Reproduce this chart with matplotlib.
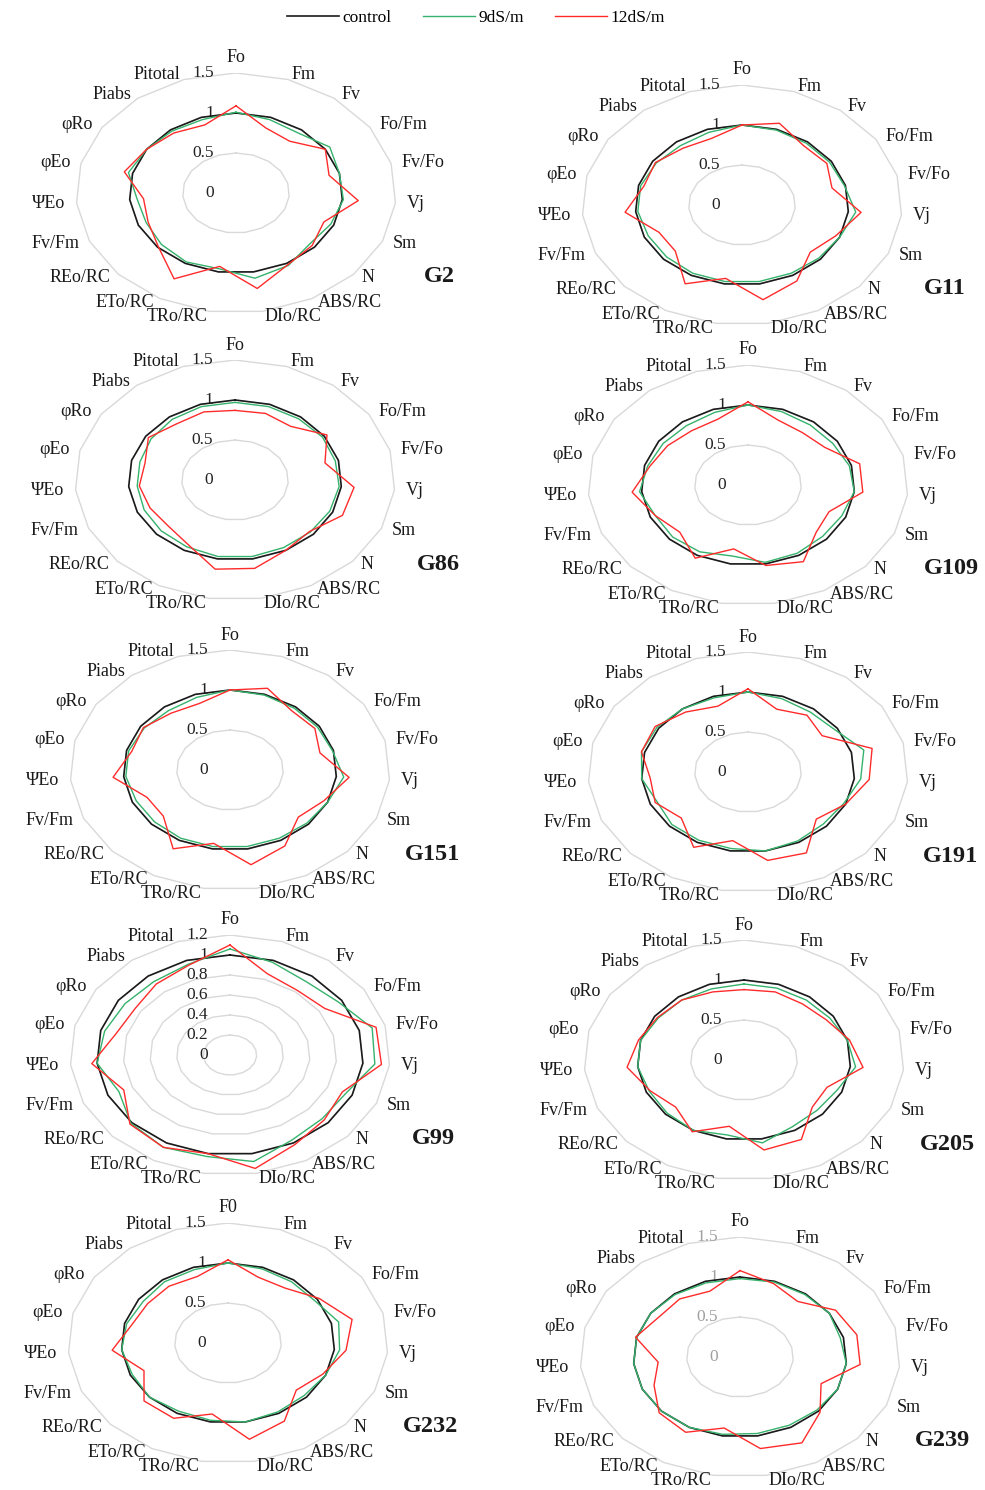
import matplotlib.pyplot as plt
import numpy as np
from matplotlib.lines import Line2D

plt.rcParams['font.family'] = ['Liberation Serif', 'DejaVu Serif']

params = ['Fo', 'Fm', 'Fv', 'Fo/Fm', 'Fv/Fo', 'Vj', 'Sm', 'N', 'ABS/RC', 'DIo/RC',
          'TRo/RC', 'ETo/RC', 'REo/RC', 'Fv/Fm', 'ΨEo', 'φEo', 'φRo', 'Piabs', 'Pitotal']

genotypes = ['G2', 'G11', 'G86', 'G109', 'G151', 'G191', 'G99', 'G205', 'G232', 'G239']

control = [1, 1, 1, 1, 1, 1, 1, 1, 1, 1, 1, 1, 1, 1, 1, 1, 1, 1, 1]

# 9 dS/m
g2_9 = [1.01, 0.97, 0.95, 1.05, 1.0, 1.01, 0.97, 0.94, 1.03, 1.08, 0.96, 0.98, 0.95, 0.92, 0.93, 1.04, 1.0, 0.98, 0.97]
g11_9 = [1.0, 0.99, 0.98, 0.98, 0.99, 1.07, 1.0, 0.98, 0.97, 0.97, 0.97, 0.97, 0.96, 0.96, 0.98, 0.98, 0.96, 0.94, 0.96]
g86_9 = [0.97, 0.97, 0.97, 0.98, 0.97, 0.98, 0.97, 0.96, 0.96, 0.97, 0.97, 0.95, 0.94, 0.93, 0.92, 0.92, 0.94, 0.96, 0.97]
g109_9 = [1.0, 0.97, 0.95, 0.95, 0.98, 1.0, 0.96, 0.95, 0.97, 0.98, 0.9, 0.95, 0.96, 0.95, 1.02, 0.97, 0.95, 0.94, 0.96]
g151_9 = [1.0, 0.99, 0.98, 0.98, 0.99, 1.07, 1.0, 0.98, 0.97, 0.97, 0.97, 0.97, 0.96, 0.96, 0.98, 0.98, 0.96, 0.94, 0.96]
g191_9 = [1.0, 0.97, 0.95, 0.97, 1.12, 1.06, 0.98, 0.96, 0.98, 1.0, 0.97, 0.97, 0.97, 0.93, 1.0, 1.03, 1.02, 1.0, 0.98]
g99_9 = [1.06, 0.98, 0.93, 0.97, 1.1, 1.09, 0.95, 0.94, 0.97, 1.08, 1.03, 1.05, 1.01, 0.91, 1.0, 0.97, 0.94, 0.93, 0.96]
g205_9 = [0.95, 0.95, 0.95, 0.96, 1.0, 1.05, 0.95, 0.93, 0.95, 1.05, 0.95, 1.0, 0.98, 0.97, 1.0, 1.0, 0.96, 0.95, 0.94]
g232_9 = [1.0, 0.98, 0.97, 0.97, 1.07, 1.05, 1.0, 0.97, 0.98, 1.0, 0.98, 0.97, 1.0, 0.98, 1.0, 0.98, 0.95, 0.97, 0.97]
g239_9 = [0.98, 0.99, 0.99, 1.0, 0.97, 1.0, 1.0, 0.98, 0.97, 0.97, 0.98, 1.0, 1.0, 1.0, 1.0, 1.0, 1.0, 0.99, 0.98]

# 12 dS/m
g2_12 = [1.09, 0.86, 0.82, 1.0, 0.9, 1.15, 0.9, 0.97, 1.02, 1.21, 0.93, 1.22, 0.99, 0.9, 0.87, 1.08, 1.0, 0.95, 0.9]
g11_12 = [1.0, 1.08, 0.94, 0.95, 0.87, 1.12, 0.96, 0.87, 1.08, 1.2, 0.93, 1.12, 0.85, 0.85, 1.1, 0.95, 0.97, 0.9, 0.88]
g86_12 = [0.87, 0.88, 0.85, 1.03, 0.87, 1.12, 1.1, 0.95, 1.0, 1.12, 1.13, 0.92, 0.85, 0.87, 0.9, 0.87, 0.97, 0.89, 0.9]
g109_12 = [1.04, 0.86, 0.83, 0.86, 1.08, 1.08, 0.83, 0.87, 1.09, 1.02, 0.81, 1.04, 0.87, 0.95, 1.09, 0.95, 0.9, 0.86, 0.87]
g151_12 = [1.0, 1.08, 0.94, 0.95, 0.87, 1.12, 0.96, 0.87, 1.08, 1.2, 0.93, 1.12, 0.85, 0.85, 1.1, 0.95, 0.97, 0.9, 0.88]
g191_12 = [1.04, 0.83, 0.9, 0.83, 1.2, 1.14, 1.0, 0.87, 1.15, 1.12, 0.87, 1.07, 0.85, 0.95, 0.92, 1.03, 1.04, 0.95, 0.87]
g99_12 = [1.1, 0.86, 0.82, 0.85, 1.13, 1.14, 0.92, 0.96, 1.02, 1.15, 1.0, 1.05, 1.02, 0.87, 1.04, 0.88, 0.85, 0.9, 0.95]
g205_12 = [0.88, 0.9, 0.89, 0.92, 1.02, 1.12, 0.85, 0.87, 1.13, 1.14, 0.84, 1.02, 0.87, 0.96, 1.1, 1.02, 0.97, 0.95, 0.9]
g232_12 = [1.04, 0.87, 0.87, 1.02, 1.2, 1.11, 0.97, 0.87, 1.11, 1.22, 0.9, 1.07, 1.07, 0.86, 1.09, 0.93, 0.9, 0.9, 0.88]
g239_12 = [1.08, 0.97, 0.88, 1.07, 1.13, 1.13, 0.83, 1.02, 1.22, 1.16, 0.9, 1.07, 1.03, 0.88, 0.77, 1.01, 0.91, 0.92, 0.87]

salt_9 = [g2_9, g11_9, g86_9, g109_9, g151_9, g191_9, g99_9, g205_9, g232_9, g239_9]
salt_12 = [g2_12, g11_12, g86_12, g109_12, g151_12, g191_12, g99_12, g205_12, g232_12, g239_12]

ticks_std = [0, 0.5, 1, 1.5]
ticks_g99 = [0, 0.2, 0.4, 0.6, 0.8, 1, 1.2]

# chart centres in pixels (layout)
centers = [(236, 193), (742, 205), (235, 480), (748, 485), (230, 770),
           (748, 772), (230, 1055), (744, 1060), (228, 1343), (740, 1357)]

W, H = 985, 1490
RX, RY = 160, 120  # outer ring half-size in px
PT = 0.72          # px -> points at dpi 100

fig = plt.figure(figsize=(W / 100, H / 100), dpi=100)

n = len(params)
theta = np.arange(n) * 2 * np.pi / n
s, c = np.sin(theta), np.cos(theta)

for i, g in enumerate(genotypes):
    cx, cy = centers[i]
    ax = fig.add_axes([(cx - RX) / W, 1 - (cy + RY) / H, 2 * RX / W, 2 * RY / H])
    ticks = ticks_g99 if g == 'G99' else ticks_std
    rmax = ticks[-1]
    ax.set_xlim(-rmax, rmax)
    ax.set_ylim(-rmax, rmax)
    ax.set_aspect('auto')
    ax.axis('off')

    # polygon grid
    for r in ticks[1:]:
        ax.plot(np.append(r * s, r * s[0]), np.append(r * c, r * c[0]),
                color='#d9d9d9', lw=1.0, zorder=1)

    tick_col = '#a0a0a0' if g == 'G239' else '#222222'
    for r in ticks:
        ax.annotate('{:g}'.format(r), (0, r), xytext=(-22 * PT, 0), textcoords='offset points',
                    ha='right', va='center', fontsize=12.5, color=tick_col, annotation_clip=False)

    for vals, col, lw in [(control, '#1a1a1a', 1.2), (salt_9[i], '#35b26b', 1.0),
                          (salt_12[i], '#ff2b2b', 1.0)]:
        v = np.array(vals, dtype=float)
        ax.plot(np.append(v * s, v[0] * s[0]), np.append(v * c, v[0] * c[0]),
                color=col, lw=lw, zorder=3, clip_on=False)

    for k, name in enumerate(params):
        if k == 0 and g == 'G232':
            name = 'F0'
        if k == 0:
            ha, ox, oy = 'center', 0, 15
        else:
            ha = 'left' if s[k] > 0.05 else 'right'
            ox, oy = 11 * s[k], 5 * c[k]
        ax.annotate(name, (rmax * s[k], rmax * c[k]), xytext=(ox * PT, oy * PT),
                    textcoords='offset points', ha=ha, va='center', fontsize=13,
                    color='#1a1a1a', annotation_clip=False)

    ax.annotate(g, (0, 0), xytext=(203 * PT, -84 * PT), textcoords='offset points',
                ha='center', va='center', fontsize=17.5, fontweight='bold',
                color='#1a1a1a', annotation_clip=False)

handles = [Line2D([], [], color='#1a1a1a', lw=1.2), Line2D([], [], color='#35b26b', lw=1.0),
           Line2D([], [], color='#ff2b2b', lw=1.0)]
fig.legend(handles, ['control', '9dS/m', '12dS/m'], loc='upper center',
           bbox_to_anchor=(0.483, 1.004), ncol=3, frameon=False, fontsize=12.5,
           handlelength=3.0, handletextpad=0.2, columnspacing=1.8)

fig.savefig('out.png', dpi=100)
